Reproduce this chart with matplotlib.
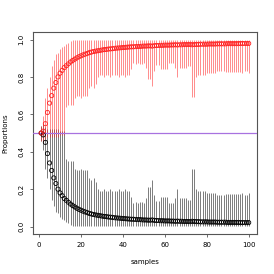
import matplotlib
matplotlib.use("Agg")
import matplotlib.pyplot as plt
import numpy as np

samples = list(range(1, 101))

red_mean = [0.50, 0.51, 0.55, 0.61, 0.66, 0.70, 0.74, 0.77, 0.80, 0.82,
            0.835, 0.85, 0.86, 0.87, 0.88, 0.888, 0.895, 0.902, 0.908, 0.913,
            0.918, 0.922, 0.926, 0.93, 0.933, 0.936, 0.938, 0.94, 0.942, 0.944,
            0.946, 0.947, 0.949, 0.95, 0.951, 0.953, 0.954, 0.955, 0.956, 0.957,
            0.958, 0.959, 0.96, 0.961, 0.961, 0.962, 0.963, 0.963, 0.964, 0.965,
            0.965, 0.966, 0.966, 0.965, 0.967, 0.968, 0.968, 0.969, 0.969, 0.97,
            0.97, 0.97, 0.971, 0.971, 0.972, 0.971, 0.972, 0.972, 0.973, 0.973,
            0.973, 0.974, 0.972, 0.973, 0.974, 0.974, 0.975, 0.975, 0.975, 0.975,
            0.976, 0.976, 0.976, 0.976, 0.977, 0.977, 0.977, 0.977, 0.977, 0.978,
            0.978, 0.978, 0.978, 0.978, 0.978, 0.979, 0.979, 0.979, 0.979, 0.979]

red_lo = [0.46, 0.45, 0.47, 0.48, 0.48, 0.48, 0.48, 0.48, 0.48, 0.49,
          0.49, 0.49, 0.64, 0.65, 0.65, 0.65, 0.69, 0.70, 0.70, 0.69,
          0.70, 0.70, 0.70, 0.74, 0.75, 0.74, 0.76, 0.80, 0.81, 0.81,
          0.80, 0.81, 0.81, 0.80, 0.81, 0.81, 0.81, 0.80, 0.81, 0.81,
          0.80, 0.81, 0.81, 0.84, 0.875, 0.87, 0.875, 0.87, 0.87, 0.875,
          0.85, 0.79, 0.79, 0.75, 0.83, 0.865, 0.865, 0.84, 0.84, 0.84,
          0.84, 0.875, 0.875, 0.875, 0.85, 0.80, 0.85, 0.85, 0.85, 0.85,
          0.86, 0.86, 0.695, 0.695, 0.80, 0.81, 0.81, 0.81, 0.81, 0.82,
          0.82, 0.82, 0.82, 0.82, 0.83, 0.83, 0.83, 0.83, 0.825, 0.825,
          0.825, 0.825, 0.825, 0.825, 0.825, 0.825, 0.82, 0.83, 0.83, 0.82]

red_hi = [0.54, 0.59, 0.69, 0.74, 0.80, 0.86, 0.89, 0.92, 0.93, 0.95,
          0.96, 0.965, 0.975, 0.98, 0.99] + [0.995] * 85

black_mean = [0.50, 0.49, 0.45, 0.39, 0.34, 0.30, 0.26, 0.23, 0.20, 0.18,
              0.165, 0.15, 0.14, 0.13, 0.12, 0.112, 0.105, 0.098, 0.092, 0.087,
              0.082, 0.078, 0.074, 0.07, 0.067, 0.064, 0.062, 0.06, 0.058, 0.056,
              0.054, 0.053, 0.051, 0.05, 0.049, 0.047, 0.046, 0.045, 0.044, 0.043,
              0.042, 0.041, 0.04, 0.039, 0.039, 0.038, 0.037, 0.037, 0.036, 0.035,
              0.035, 0.034, 0.034, 0.035, 0.033, 0.032, 0.032, 0.031, 0.031, 0.03,
              0.03, 0.03, 0.029, 0.029, 0.028, 0.029, 0.028, 0.028, 0.027, 0.027,
              0.027, 0.026, 0.028, 0.027, 0.026, 0.026, 0.025, 0.025, 0.025, 0.025,
              0.024, 0.024, 0.024, 0.024, 0.023, 0.023, 0.023, 0.023, 0.023, 0.022,
              0.022, 0.022, 0.022, 0.022, 0.022, 0.021, 0.021, 0.021, 0.021, 0.021]

black_lo = [0.46, 0.41, 0.31, 0.26, 0.20, 0.14, 0.11, 0.08, 0.07, 0.05,
            0.04, 0.035, 0.025, 0.02, 0.01] + [0.005] * 85

black_hi = [0.54, 0.55, 0.53, 0.52, 0.52, 0.52, 0.52, 0.52, 0.52, 0.51,
            0.51, 0.51, 0.36, 0.35, 0.35, 0.35, 0.31, 0.30, 0.30, 0.31,
            0.30, 0.30, 0.30, 0.26, 0.25, 0.26, 0.24, 0.20, 0.19, 0.19,
            0.20, 0.19, 0.19, 0.20, 0.19, 0.19, 0.19, 0.20, 0.19, 0.19,
            0.20, 0.19, 0.19, 0.16, 0.125, 0.13, 0.125, 0.13, 0.13, 0.125,
            0.15, 0.21, 0.21, 0.25, 0.17, 0.135, 0.135, 0.16, 0.16, 0.16,
            0.16, 0.125, 0.125, 0.125, 0.15, 0.20, 0.15, 0.15, 0.15, 0.15,
            0.14, 0.14, 0.305, 0.305, 0.20, 0.19, 0.19, 0.19, 0.19, 0.18,
            0.18, 0.18, 0.18, 0.18, 0.17, 0.17, 0.17, 0.17, 0.175, 0.175,
            0.175, 0.175, 0.175, 0.175, 0.175, 0.175, 0.18, 0.17, 0.17, 0.18]

reference_level = 0.5
xticks = [0, 20, 40, 60, 80, 100]
yticks = [0.0, 0.2, 0.4, 0.6, 0.8, 1.0]

fig = plt.figure(figsize=(2.74, 2.74), dpi=100)
ax = fig.add_axes([0.120, 0.146, 0.818, 0.737])

ax.vlines(samples, black_lo, black_hi, colors="black", alpha=0.5, linewidth=0.72, zorder=2)
ax.vlines(samples, red_lo, red_hi, colors="#ff2020", alpha=0.5, linewidth=0.72, zorder=3)
ax.axhline(reference_level, color="#a872e0", linewidth=0.9, zorder=4)
ax.scatter(samples, black_mean, s=9, facecolors="none", edgecolors="black", linewidths=0.6, zorder=5)
ax.scatter(samples, red_mean, s=9, facecolors="none", edgecolors="#ff2020", linewidths=0.6, zorder=6)

ax.set_xlim(-2.96, 103.96)
ax.set_ylim(-0.04, 1.04)
ax.set_xticks(xticks)
ax.set_xticklabels([str(v) for v in xticks])
ax.set_yticks(yticks)
ax.set_yticklabels([f"{v:.1f}" for v in yticks], rotation=90, va="center")

for sp in ax.spines.values():
    sp.set_color("#555555")
    sp.set_linewidth(0.8)
ax.tick_params(axis="both", labelsize=5, length=2.5, width=0.6, color="#555555", pad=3.5)

ax.set_xlabel("samples", fontsize=5, labelpad=8)
ax.set_ylabel("Proportions", fontsize=5, labelpad=7)

fig.savefig("out.png", dpi=100)
